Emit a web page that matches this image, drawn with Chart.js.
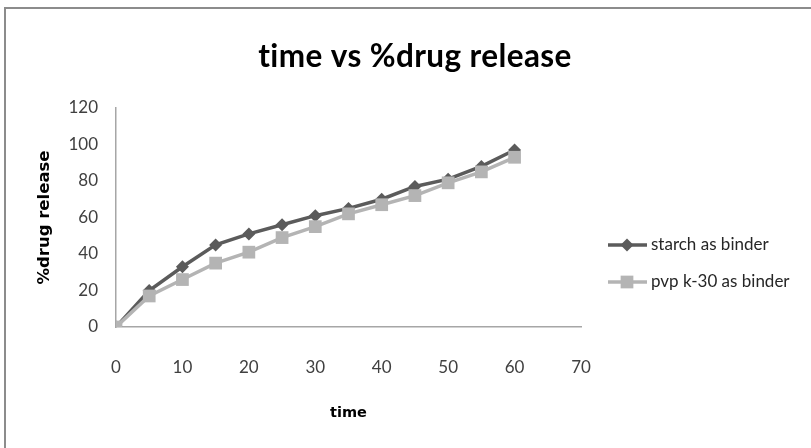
<!DOCTYPE html>
<html>
<head>
<meta charset="utf-8">
<script src="https://cdn.jsdelivr.net/npm/chart.js@4/dist/chart.umd.min.js"></script>
<style>
html,body{margin:0;padding:0;background:#fff;}
#wrap{position:relative;width:811px;height:448px;}
</style>
</head>
<body>
<div id="wrap"><canvas id="c" width="811" height="448"></canvas></div>
<script>
const chartTitle = 'time vs %drug release';
const xTitle = 'time';
const yTitle = '%drug release';
const times = [0, 5, 10, 15, 20, 25, 30, 35, 40, 45, 50, 55, 60];
const starch = [0, 20, 33, 45, 51, 56, 61, 65, 70, 77, 81, 88, 97];
const pvp = [0, 17, 26, 35, 41, 49, 55, 62, 67, 72, 79, 85, 93];
const seriesNames = ['starch as binder', 'pvp k-30 as binder'];

const FONT = 'Lato, "Open Sans", sans-serif';

const frame = {
  id: 'frame',
  beforeDraw(chart) {
    const ctx = chart.ctx;
    ctx.save();
    ctx.strokeStyle = '#8c8c8c';
    ctx.lineWidth = 2;
    ctx.beginPath();
    ctx.moveTo(5, 460);
    ctx.lineTo(5, 8);
    ctx.lineTo(820, 8);
    ctx.stroke();
    ctx.restore();
  }
};

const titlePlugin = {
  id: 'centeredTitle',
  afterDraw(chart) {
    const ctx = chart.ctx;
    ctx.save();
    ctx.fillStyle = '#000';
    ctx.font = 'bold 31.5px ' + FONT;
    ctx.letterSpacing = '0.4px';
    ctx.textAlign = 'center';
    ctx.textBaseline = 'alphabetic';
    ctx.fillText(chartTitle, 415, 67);
    ctx.restore();
  }
};

const legendPlugin = {
  id: 'customLegend',
  afterDraw(chart) {
    const ctx = chart.ctx;
    const ys = [245, 282];
    ctx.save();
    chart.data.datasets.forEach((ds, i) => {
      const y = ys[i];
      ctx.strokeStyle = ds.borderColor;
      ctx.lineWidth = ds.borderWidth;
      ctx.beginPath();
      ctx.moveTo(608, y);
      ctx.lineTo(647, y);
      ctx.stroke();
      ctx.fillStyle = ds.pointBackgroundColor;
      ctx.strokeStyle = ds.pointBorderColor;
      Chart.helpers.drawPoint(ctx, {pointStyle: ds.pointStyle, radius: ds.pointRadius, borderWidth: 0, rotation: 0}, 627, y);
      ctx.fillStyle = '#262626';
      ctx.font = '17px ' + FONT;
      ctx.textBaseline = 'middle';
      ctx.textAlign = 'left';
      ctx.fillText(ds.label, 651, y);
    });
    ctx.restore();
  }
};

new Chart(document.getElementById('c'), {
  type: 'line',
  data: {
    labels: times,
    datasets: [
      {
        label: seriesNames[0],
        data: times.map((t, i) => ({x: t, y: starch[i]})),
        borderColor: '#5b5b5b',
        backgroundColor: '#5b5b5b',
        pointBackgroundColor: '#5b5b5b',
        pointBorderColor: '#5b5b5b',
        borderWidth: 3.5,
        pointStyle: 'rectRot',
        pointRadius: 6.5,
        pointBorderWidth: 0,
        tension: 0,
        order: 1
      },
      {
        label: seriesNames[1],
        data: times.map((t, i) => ({x: t, y: pvp[i]})),
        borderColor: '#b4b4b4',
        backgroundColor: '#b4b4b4',
        pointBackgroundColor: '#b4b4b4',
        pointBorderColor: '#b4b4b4',
        borderWidth: 3.5,
        pointStyle: 'rect',
        pointRadius: 9,
        pointBorderWidth: 0,
        tension: 0,
        order: 0
      }
    ]
  },
  options: {
    responsive: false,
    animation: false,
    layout: {padding: {left: 0, right: 230, top: 108, bottom: 0}},
    plugins: {
      legend: {display: false},
      tooltip: {enabled: false},
      title: {display: false}
    },
    scales: {
      x: {
        type: 'linear',
        min: 0, max: 70,
        ticks: {stepSize: 10, color: '#404040', font: {family: FONT, size: 17}, padding: 30, maxRotation: 0},
        grid: {display: false, drawTicks: false},
        border: {display: true, color: '#a6a6a6', width: 1.5},
        title: {display: true, text: xTitle, color: '#000', font: {family: '"DejaVu Sans", sans-serif', size: 14.5, weight: 'bold', lineHeight: 1.2}, padding: {top: 0, bottom: 26}},
        afterFit(scale) { scale.height = 121; }
      },
      y: {
        min: 0, max: 120,
        ticks: {stepSize: 20, color: '#404040', font: {family: FONT, size: 17}, padding: 18},
        grid: {display: false, drawTicks: false},
        border: {display: true, color: '#a6a6a6', width: 1.5},
        title: {display: true, text: yTitle, color: '#000', font: {family: '"DejaVu Sans", sans-serif', size: 16.5, weight: 'bold', lineHeight: 1.2}, padding: {top: 35, bottom: 0}},
        afterFit(scale) { scale.width = 116; }
      }
    }
  },
  plugins: [frame, titlePlugin, legendPlugin]
});
</script>
</body>
</html>
